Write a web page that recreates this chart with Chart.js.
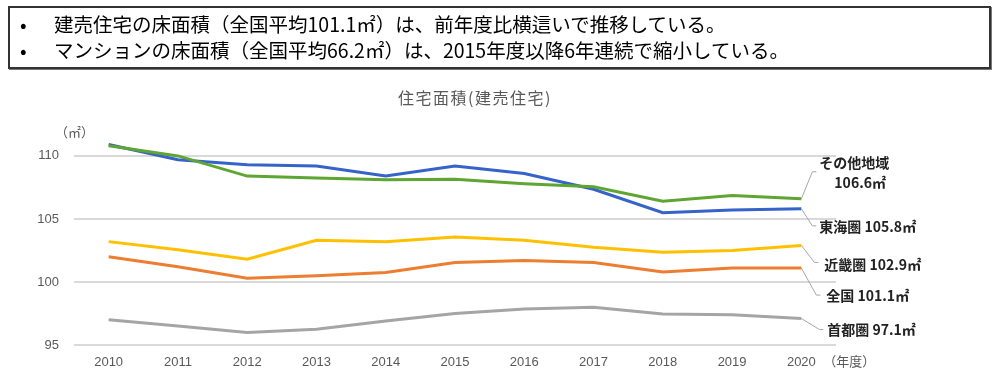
<!DOCTYPE html>
<html><head><meta charset="utf-8">
<script src="https://cdn.jsdelivr.net/npm/chart.js@4.4.1/dist/chart.umd.min.js"></script>
<style>
html,body{margin:0;padding:0;background:#fff;width:1000px;height:382px;overflow:hidden;}
#box{position:absolute;left:8px;top:6px;width:979px;height:59px;border:2px solid #333;box-shadow:1px 1px 0 #777;font-family:"Noto Sans CJK JP",sans-serif;font-size:19.5px;color:#000;}
.ln{position:absolute;left:0;white-space:nowrap;line-height:26px;}
.ln .b{position:absolute;left:10px;}
.ln .t{position:absolute;left:44px;}
#wrap{position:absolute;left:0;top:0;width:1000px;height:382px;}
</style></head>
<body>
<div id="wrap"><canvas id="c" width="1000" height="382"></canvas></div>
<div id="box">
<div class="ln" style="top:3px"><span class="b">•</span><span class="t">建売住宅の床面積（全国平均101.1㎡）は、前年度比横這いで推移している。</span></div>
<div class="ln" style="top:29px"><span class="b">•</span><span class="t">マンションの床面積（全国平均66.2㎡）は、2015年度以降6年連続で縮小している。</span></div>
</div>
<script>
const years = ['2010','2011','2012','2013','2014','2015','2016','2017','2018','2019','2020'];
const sonota = [110.8,110.0,108.4,108.25,108.1,108.15,107.8,107.55,106.4,106.85,106.6];
const tokai  = [110.9,109.7,109.3,109.2,108.4,109.2,108.6,107.35,105.5,105.7,105.8];
const kinki  = [103.2,102.55,101.8,103.3,103.2,103.57,103.3,102.75,102.35,102.5,102.9];
const zenkoku= [102.0,101.2,100.3,100.5,100.75,101.55,101.7,101.55,100.8,101.1,101.1];
const shuto  = [97.0,96.5,96.0,96.25,96.9,97.5,97.85,98.0,97.45,97.4,97.1];
const seriesNames = ['その他地域','東海圏','近畿圏','全国','首都圏'];
const endLabels = [['その他地域','106.6㎡'],['東海圏 105.8㎡'],['近畿圏 102.9㎡'],['全国 101.1㎡'],['首都圏 97.1㎡']];
const yTicks = [95,100,105,110];
const title = '住宅面積(建売住宅)';
const yUnit = '（㎡）';
const xUnit = '（年度）';

const colors = ['#5fa534','#3563c9','#ffc000','#ed7d31','#a5a5a5'];
const dataArr = [sonota,tokai,kinki,zenkoku,shuto];
// leader geometry: [dy to elbow, dx to elbow, label x offset, label y offset]
const leader = [[-27,11,18,-9],[17,11,18,18],[17,13,23,19],[27,15,25,28],[11,18,26,11]];

const overlay = {
  id:'overlay',
  afterDatasetsDraw(chart){
    const ctx = chart.ctx, ca = chart.chartArea;
    ctx.save();
    ctx.fillStyle='#595959';
    ctx.font='16px "Noto Sans CJK JP"';
    ctx.letterSpacing='1.5px';
    ctx.textAlign='center'; ctx.textBaseline='middle';
    ctx.fillText(title, 475, 98);
    ctx.letterSpacing='0px';
    ctx.font='13px "Noto Sans CJK JP"';
    ctx.textAlign='left';
    ctx.fillText(yUnit, 55, 132);
    const xs = chart.scales.x;
    ctx.fillText(xUnit, xs.getPixelForValue(years.length-1)+22, 361);
    // leaders
    chart.data.datasets.forEach((ds,i)=>{
      const meta = chart.getDatasetMeta(i);
      const p = meta.data[meta.data.length-1];
      const [dy,dx,lx,ly] = leader[i];
      ctx.strokeStyle='#a6a6a6'; ctx.lineWidth=1;
      ctx.beginPath();
      ctx.moveTo(p.x, p.y);
      ctx.lineTo(p.x+dx, p.y+dy);
      ctx.lineTo(p.x+dx+4, p.y+dy);
      ctx.stroke();
      ctx.fillStyle='#222';
      ctx.font='bold 14px "Noto Sans CJK JP"';
      ctx.textAlign='left'; ctx.textBaseline='middle';
      const lines = endLabels[i];
      if(lines.length===2){
        ctx.fillText(lines[0], p.x+lx, p.y+dy-9);
        ctx.fillText(lines[1], p.x+lx+15, p.y+dy+11);
      } else {
        ctx.fillText(lines[0], p.x+lx, p.y+ly);
      }
    });
    ctx.restore();
  }
};

new Chart(document.getElementById('c'),{
  type:'line',
  data:{labels:years,datasets:dataArr.map((d,i)=>({label:seriesNames[i],data:d,borderColor:colors[i],backgroundColor:colors[i],borderWidth:3,pointRadius:0,tension:0,fill:false,order:i===0?0:1}))},
  options:{
    responsive:false,animation:false,
    layout:{padding:{left:0,right:164,top:137,bottom:0}},
    plugins:{legend:{display:false},title:{display:false},tooltip:{enabled:false}},
    scales:{
      x:{offset:true,grid:{display:false,drawTicks:false},border:{display:false},
         ticks:{color:'#595959',font:{family:'"Liberation Sans", Arial',size:13},padding:10,maxRotation:0},
         afterFit(s){s.height=37;}},
      y:{min:95,max:111.5,border:{display:false},
         grid:{color:'#d9d9d9',lineWidth:2,drawTicks:false},
         ticks:{stepSize:5,color:'#595959',font:{family:'"Liberation Sans", Arial',size:13},padding:15},
         afterBuildTicks(a){a.ticks=yTicks.map(v=>({value:v}));},
         afterFit(s){s.width=74;}}
    }
  },
  plugins:[overlay]
});
</script>
</body></html>
